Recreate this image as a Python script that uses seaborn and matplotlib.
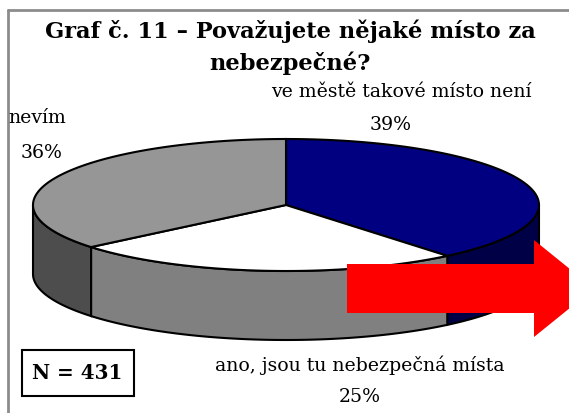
import numpy as np
import matplotlib
matplotlib.use("Agg")
import matplotlib.pyplot as plt
from matplotlib.patches import Polygon, Rectangle
import seaborn as sns

# data
labels = ["ve městě takové místo není", "ano, jsou tu nebezpečná místa", "nevím"]
shares = [39, 25, 36]
top_colors = ["#000080", "#ffffff", "#969696"]
side_colors = ["#000046", "#808080", "#4d4d4d"]
title_lines = ["Graf č. 11 – Považujete nějaké místo za", "nebezpečné?"]
n_resp = 431

sns.set_style("white")
plt.rcParams["font.family"] = ["DejaVu Serif"]
plt.rcParams["text.color"] = "black"

fig = plt.figure(figsize=(5.69, 4.13), dpi=100)
ax = fig.add_axes([0, 0, 1, 1])
ax.set_xlim(0, 569)
ax.set_ylim(413, 0)
ax.axis("off")

# pie geometry (pixels)
cx, cy, rx, ry, depth = 286, 205, 253, 66, 69


def rim(t0, t1, n=120):
    t = np.radians(np.linspace(t0, t1, n))
    return cx + rx * np.cos(t), cy - ry * np.sin(t)


# slice boundaries, clockwise from 12 o'clock
bounds = 90 - 360 * np.concatenate([[0], np.cumsum(shares)]) / sum(shares)

# side walls (front half only)
for i in range(len(shares)):
    hi = min(bounds[i], 0)
    lo = max(bounds[i + 1], -180)
    if hi <= lo:
        continue
    x, y = rim(hi, lo)
    pts = np.vstack([np.column_stack([x, y]),
                     np.column_stack([x[::-1], y[::-1] + depth])])
    ax.add_patch(Polygon(pts, closed=True, facecolor=side_colors[i],
                         edgecolor="black", lw=1.5, zorder=2))

# top faces
for i in range(len(shares)):
    x, y = rim(bounds[i], bounds[i + 1])
    pts = np.vstack([[cx, cy], np.column_stack([x, y])])
    ax.add_patch(Polygon(pts, closed=True, facecolor=top_colors[i],
                         edgecolor="black", lw=1.5, zorder=3))

# labels
fs = 13.6
ax.text(401, 92, labels[0], ha="center", va="center", fontsize=fs)
ax.text(391, 125, f"{shares[0]}%", ha="center", va="center", fontsize=fs)
ax.text(360, 365, labels[1], ha="center", va="center", fontsize=fs)
ax.text(360, 397, f"{shares[1]}%", ha="center", va="center", fontsize=fs)
ax.text(8, 118, labels[2], ha="left", va="center", fontsize=fs)
ax.text(42, 153, f"{shares[2]}%", ha="center", va="center", fontsize=fs)

# title
ax.text(290, 31, title_lines[0], ha="center", va="center", fontsize=16.2,
        fontweight="bold")
ax.text(290, 63, title_lines[1], ha="center", va="center", fontsize=16.2,
        fontweight="bold")

# N box
ax.add_patch(Rectangle((22, 350), 112, 46, facecolor="white",
                       edgecolor="black", lw=1.5, zorder=4))
ax.text(77, 373, f"N = {n_resp}", ha="center", va="center", fontsize=14.3,
        fontweight="bold", zorder=5)

# red arrow overlay
arrow = [(347, 264), (534, 264), (534, 240), (594, 288.5),
         (534, 337), (534, 313), (347, 313)]
ax.add_patch(Polygon(arrow, closed=True, facecolor="#ff0000",
                     edgecolor="none", zorder=6))

# frame lines
ax.plot([8, 8], [413, 10], color="#8c8c8c", lw=2, zorder=1)
ax.plot([8, 569], [10, 10], color="#8c8c8c", lw=2, zorder=1)

fig.savefig("out.png", dpi=100)
